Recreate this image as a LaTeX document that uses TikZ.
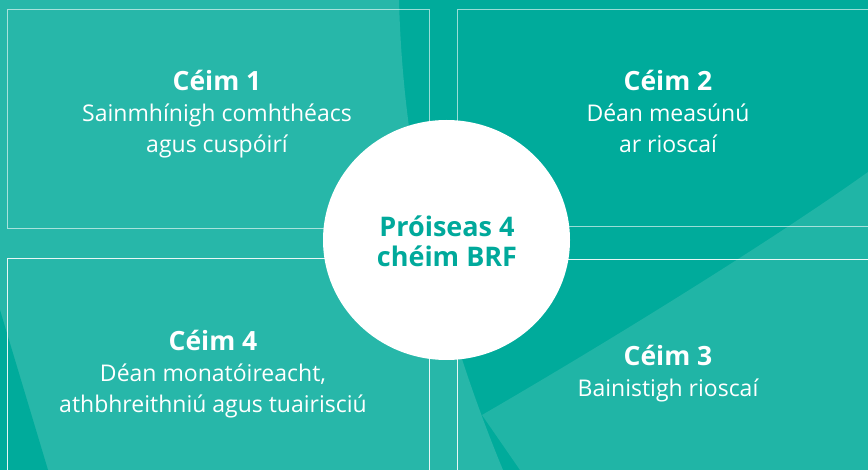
\documentclass[tikz,border=0pt]{standalone}
\usepackage{fontspec}
\setmainfont{Open Sans}
\usetikzlibrary{shapes.geometric}
\definecolor{darkteal}{HTML}{00AB9B}
\definecolor{lightteal}{HTML}{27B7A9}
\definecolor{lightteal2}{HTML}{20B5A6}
\definecolor{circtext}{HTML}{00A99B}
\tikzset{
  stepbox/.style={draw=white, line width=1pt, rectangle, inner sep=0pt},
  head/.style={text=white, anchor=base, inner sep=0pt, font=\fontsize{26.5}{31}\selectfont\bfseries},
  body/.style={text=white, anchor=base, inner sep=0pt, font=\fontsize{23}{31}\selectfont},
  ctext/.style={text=circtext, anchor=base, inner sep=0pt, font=\fontsize{27}{31}\selectfont\bfseries},
}
\begin{document}
\begin{tikzpicture}[x=1pt,y=-1pt]
\useasboundingbox (0,0) rectangle (868,470);
\fill[darkteal] (0,0) rectangle (868,470);
% lower-right light region
\fill[lightteal2] (482,415) .. controls (620,335) and (780,235) .. (868,172) -- (868,470) -- (520,470) -- cycle;
% left light region
\fill[lightteal] (0,0) -- (399,0) .. controls (403,157) and (438,313) .. (503,470) -- (0,470) -- cycle;
% dark sliver bottom-left
\fill[darkteal] (0,310) -- (48,470) -- (0,470) -- cycle;
% boxes
\node[stepbox, draw opacity=0.6, minimum width=422, minimum height=219] (b1) at (218,119) {};
\node[stepbox, draw opacity=0.6, minimum width=430, minimum height=217] (b2) at (672,118.5) {};
\node[stepbox, draw opacity=0.9, minimum width=422, minimum height=240] (b4) at (218,379) {};
\node[stepbox, draw opacity=0.9, minimum width=430, minimum height=240] (b3) at (672,380) {};
% centre circle
\node[ellipse, fill=white, minimum width=247, minimum height=240, inner sep=0pt] (c) at (446.5,240) {};
\node[ctext] (ct1) at (447,237) {Próiseas 4};
\node[ctext] (ct2) at (447,267) {chéim BRF};
% step 1
\node[head] (h1) at (217,91) {Céim 1};
\node[body] (t1a) at (217,122) {Sainmhínigh comhthéacs};
\node[body] (t1b) at (217,153) {agus cuspóirí};
% step 2
\node[head] (h2) at (668,91) {Céim 2};
\node[body] (t2a) at (668,122) {Déan measúnú};
\node[body] (t2b) at (668,153) {ar rioscaí};
% step 4
\node[head] (h4) at (213,351) {Céim 4};
\node[body] (t4a) at (213,382) {Déan monatóireacht,};
\node[body] (t4b) at (213,413) {athbhreithniú agus tuairisciú};
% step 3
\node[head] (h3) at (668,366) {Céim 3};
\node[body] (t3a) at (668,397) {Bainistigh rioscaí};
\end{tikzpicture}
\end{document}
